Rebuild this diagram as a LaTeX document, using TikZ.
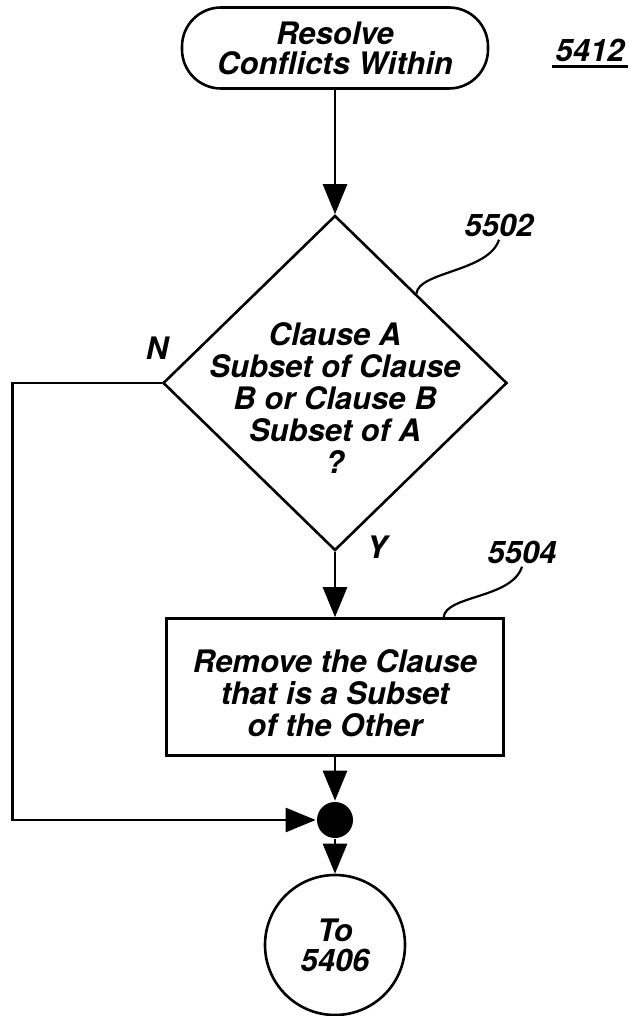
\documentclass[tikz,border=0pt]{standalone}
\usepackage{fontspec}
\setmainfont{TeX Gyre Heros}
\usetikzlibrary{arrows.meta, shapes.geometric, calc}

\begin{document}
\begin{tikzpicture}[x=1pt, y=-1pt, line width=2.6pt,
    txt/.style={font=\fontsize{31}{30}\selectfont\bfseries\itshape, align=center},
    term/.style={txt, draw, rounded corners=39pt, minimum width=306pt, minimum height=81pt, inner sep=0pt},
    decision/.style={txt, draw, diamond, minimum width=344pt, minimum height=335pt, inner sep=0pt},
    box/.style={txt, draw, rectangle, minimum width=337pt, minimum height=137pt, inner sep=0pt},
    conn/.style={txt, draw, circle, minimum size=140pt, inner sep=0pt},
    junct/.style={circle, fill=black, minimum size=36pt, inner sep=0pt},
    ref/.style={font=\fontsize{31}{31}\selectfont\bfseries\itshape, inner sep=2pt},
    lead/.style={line width=2.2pt},
    arrow/.style={-{Triangle[length=30pt, width=24pt]}},
]
\useasboundingbox (0,0) rectangle (631,1016);

% ===== shapes =====
\node[term] (start) at (335,48) {Resolve\\Conflicts Within};
\node[decision] (dec) at (335,383) {\makebox[0pt]{\raisebox{-26pt}[0pt][0pt]{%
    \begin{tabular}{@{}c@{}}Clause A\\Subset of Clause\\B or Clause B\\Subset of A\\?\end{tabular}}}};
\node[box] (rm) at (335,687) {\raisebox{-17pt}[0pt][0pt]{%
    \begin{tabular}{@{}c@{}}Remove the Clause\\that is a Subset\\of the Other\end{tabular}}};
\node[junct] (dot) at (335,820) {};
\node[conn] (to) at (335,945) {To\\5406};

% ===== reference numbers =====
\node[ref, inner ysep=4pt] (n5412) at (590,50) {5412};
\draw (n5412.south west) -- (n5412.south east);
\node[ref] (n5502) at (499,225) {5502};
\node[ref] (n5504) at (522,552) {5504};
\node[txt] (no)  at (157,348) {N};
\node[txt] (yes) at (377,547) {Y};

% ===== leaders =====
\coordinate (e5502) at ($(dec.north)!0.47!(dec.east)$);
\coordinate (e5504) at ($(rm.north west)!0.82!(rm.north east)$);
\draw[lead] (n5502.south) .. controls +(-10,32) and +(2,-22) .. (e5502);
\draw[lead] (n5504.south) .. controls +(-10,32) and +(2,-22) .. (e5504);

% ===== flow =====
\draw[arrow] (start.south) -- (dec.north);
\draw[arrow] (dec.south) -- (rm.north);
\draw[arrow] (rm.south) -- (dot.north);
\draw[arrow] (dot.south) -- (to.north);
\draw[arrow] (dec.west) -- ++(-149,0) |- (dot.west);
\end{tikzpicture}
\end{document}
